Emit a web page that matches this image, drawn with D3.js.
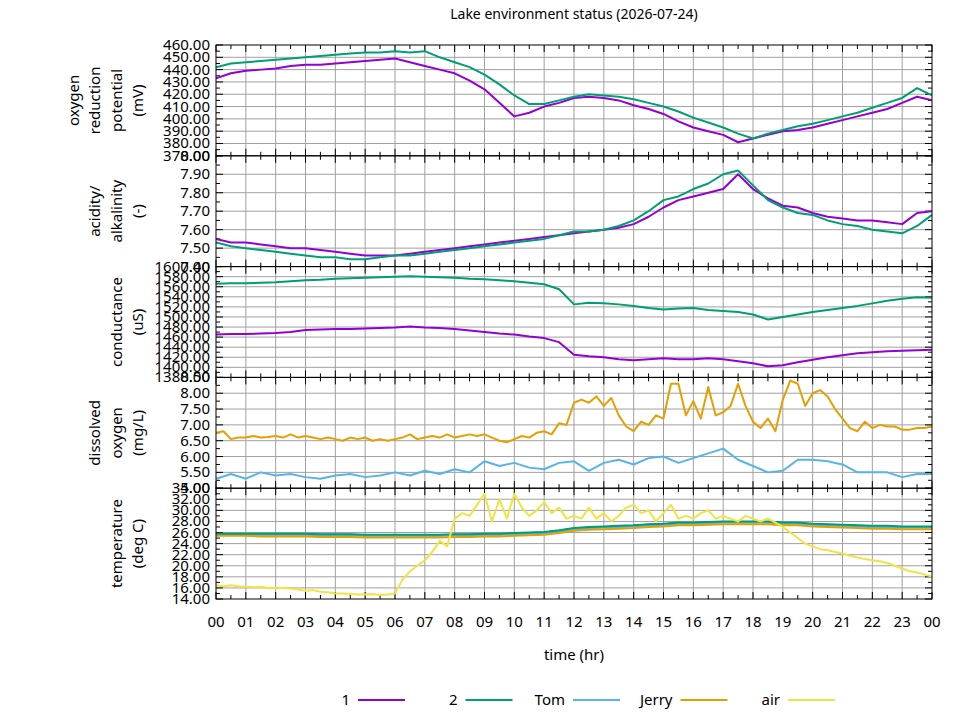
<!DOCTYPE html>
<html>
<head>
<meta charset="utf-8">
<script src="https://cdn.jsdelivr.net/npm/d3@7"></script>
<style>
  body { margin: 0; background: #fff; }
  text { font-family: "Noto Sans", sans-serif; }
</style>
</head>
<body>
<div id="chart"></div>
<script>
// half-hour samples (49) unless noted, quarter-hour samples (97)
const orp1 = [433,437,439,440,441,443,444,444,445,446,447,448,449,
  446,443,440,437,431,424,413,402,405,410,413,417,
  418,417,415,411,408,404,398,393,390,387,381,384,
  387,390,391,393,396,399,402,405,408,413,418,415];
const orp2 = [442,445,446,447,448,449,450,451,452,453,454,454,455,
  454,455,450,446,442,436,428,419,412,412,415,418,
  420,419,418,416,413,410,406,401,397,393,388,384,
  388,391,394,396,399,402,405,409,413,417,425,419];
const ph1 = [7.55,7.53,7.53,7.52,7.51,7.50,7.50,7.49,7.48,7.47,7.46,7.46,7.46,
  7.47,7.48,7.49,7.50,7.51,7.52,7.53,7.54,7.55,7.56,7.57,7.58,
  7.59,7.60,7.61,7.63,7.67,7.72,7.76,7.78,7.80,7.82,7.90,7.82,
  7.77,7.73,7.72,7.69,7.67,7.66,7.65,7.65,7.64,7.63,7.69,7.70];
const ph2 = [7.53,7.51,7.50,7.49,7.48,7.47,7.46,7.45,7.45,7.44,7.44,7.45,7.46,
  7.46,7.47,7.48,7.49,7.50,7.51,7.52,7.53,7.54,7.55,7.57,7.59,
  7.59,7.60,7.62,7.65,7.70,7.76,7.78,7.82,7.85,7.90,7.92,7.84,
  7.76,7.72,7.69,7.68,7.65,7.63,7.62,7.60,7.59,7.58,7.62,7.68];
const cond1 = [1465,1466,1466,1467,1468,1470,1474,1475,1476,1476,1477,1478,1479,
  1481,1479,1478,1476,1473,1470,1467,1465,1461,1458,1450,1425,
  1422,1420,1416,1414,1416,1418,1416,1416,1418,1416,1412,1408,
  1402,1404,1410,1415,1420,1424,1428,1430,1432,1433,1434,1435];
const cond2 = [1566,1567,1567,1568,1569,1571,1573,1574,1576,1577,1578,1579,1580,
  1581,1580,1579,1578,1576,1575,1573,1571,1568,1565,1555,1525,
  1528,1527,1525,1522,1518,1515,1517,1518,1514,1512,1510,1505,
  1495,1500,1505,1510,1514,1518,1522,1527,1532,1536,1539,1538];
const doTom = [5.3,5.45,5.3,5.5,5.4,5.45,5.35,5.3,5.4,5.45,
  5.35,5.4,5.5,5.4,5.55,5.45,5.6,5.5,5.85,5.7,
  5.8,5.65,5.6,5.8,5.85,5.55,5.8,5.9,5.75,5.95,
  6.0,5.8,5.95,6.1,6.25,5.9,5.7,5.5,5.55,5.9,
  5.9,5.85,5.75,5.5,5.5,5.5,5.35,5.45,5.45];
const doJerry = [6.75,6.8,6.55,6.6,6.6,6.65,6.6,6.62,6.65,6.6,6.7,6.6,6.65,6.6,6.55,6.6,6.55,6.5,6.6,6.55,
  6.6,6.5,6.55,6.5,6.55,6.6,6.7,6.55,6.6,6.65,6.6,6.7,6.6,6.65,6.7,6.65,6.7,6.6,6.5,6.45,
  6.55,6.65,6.6,6.75,6.8,6.7,7.05,7.0,7.7,7.8,7.7,7.9,7.6,7.85,7.3,6.95,
  6.8,7.1,7.0,7.3,7.2,8.3,8.3,7.3,7.75,7.2,8.2,7.3,7.4,7.6,8.3,7.6,
  7.1,6.9,7.2,6.8,7.8,8.4,8.3,7.6,8.0,8.1,7.9,7.5,7.2,6.9,6.8,7.1,
  6.9,7.0,6.95,6.95,6.85,6.85,6.9,6.9,6.95];
const temp1 = [25.7,25.7,25.7,25.7,25.7,25.7,25.7,25.6,25.6,25.6,25.5,25.5,25.5,
  25.5,25.5,25.5,25.6,25.6,25.7,25.7,25.8,25.9,26.0,26.3,26.7,
  26.9,27.0,27.1,27.2,27.4,27.5,27.7,27.7,27.8,27.9,27.9,27.9,
  27.9,27.7,27.7,27.5,27.4,27.3,27.2,27.1,27.1,27.0,27.0,27.0];
const temp2 = [25.8,25.8,25.8,25.8,25.8,25.8,25.8,25.7,25.7,25.7,25.6,25.6,25.6,
  25.6,25.6,25.6,25.7,25.7,25.8,25.8,25.9,26.0,26.1,26.4,26.8,
  27.0,27.1,27.2,27.3,27.5,27.6,27.8,27.8,27.9,28.0,28.0,28.0,
  28.0,27.8,27.8,27.6,27.5,27.4,27.3,27.2,27.2,27.1,27.1,27.1];
const tempTom = [25.6,25.6,25.6,25.6,25.6,25.6,25.6,25.5,25.5,25.5,25.4,25.4,25.4,
  25.4,25.4,25.4,25.5,25.5,25.6,25.6,25.7,25.8,25.9,26.2,26.6,
  26.8,26.9,27.0,27.1,27.3,27.4,27.6,27.6,27.7,27.8,27.8,27.8,
  27.8,27.6,27.6,27.4,27.3,27.2,27.1,27.0,27.0,26.9,26.9,26.9];
const tempJerry = [25.4,25.4,25.4,25.3,25.3,25.3,25.3,25.2,25.2,25.2,25.1,25.1,25.1,
  25.1,25.1,25.1,25.2,25.2,25.3,25.3,25.4,25.5,25.6,25.9,26.3,
  26.5,26.6,26.7,26.8,27.0,27.1,27.3,27.3,27.4,27.5,27.5,27.5,
  27.5,27.3,27.3,27.1,27.0,26.9,26.8,26.7,26.7,26.6,26.6,26.6];
const tempAir = [16.5,16.3,16.5,16.3,16.2,16.1,16.2,16.0,16.0,16.0,15.9,15.7,15.5,15.6,15.3,15.2,15.0,15.0,14.9,14.8,14.8,14.9,14.7,14.8,
  15.0,17.5,19.0,20.0,21.0,22.5,24.5,23.5,28.5,29.5,29.0,31.0,33.0,28.0,32.0,28.5,33.0,30.5,29.0,30.0,31.5,29.5,30.5,28.5,
  29.0,28.5,30.5,28.5,29.5,28.0,29.0,30.5,31.0,29.5,30.0,28.0,29.5,31.0,28.5,29.0,28.5,29.5,30.0,28.5,29.0,28.5,28.0,29.0,
  28.5,28.0,28.5,27.8,27.0,26.0,25.0,24.0,23.5,23.0,22.8,22.5,22.2,21.8,21.5,21.2,21.0,20.8,20.5,20.0,19.5,19.0,18.8,18.4,18.0];

const hourLabels = ["00","01","02","03","04","05","06","07","08","09","10","11","12",
  "13","14","15","16","17","18","19","20","21","22","23","00"];
const legendNames = ["1", "2", "Tom", "Jerry", "air"];
const colors = { "1": "#9400d3", "2": "#009e73", "Tom": "#56b4e9", "Jerry": "#e69f00", "air": "#f0e442" };

const panels = [
  { label: ["oxygen", "reduction", "potential", "(mV)"], domain: [370, 460], step: 10,
    series: [["1", orp1], ["2", orp2]] },
  { label: ["acidity/", "alkalinity", "(-)"], domain: [7.4, 8.0], step: 0.1,
    series: [["1", ph1], ["2", ph2]] },
  { label: ["conductance", "(uS)"], domain: [1380, 1600], step: 20,
    series: [["1", cond1], ["2", cond2]] },
  { label: ["dissolved", "oxygen", "(mg/L)"], domain: [5.0, 8.5], step: 0.5,
    series: [["Tom", doTom], ["Jerry", doJerry]] },
  { label: ["temperature", "(deg C)"], domain: [14, 34], step: 2,
    series: [["1", temp1], ["Tom", tempTom], ["Jerry", tempJerry], ["2", temp2], ["air", tempAir]] }
];

const chartW = 960, chartH = 720;
const plotLeft = 216, plotRight = 932, plotTop = 45, panelH = 110.8;

const svg = d3.select("#chart").append("svg")
  .attr("width", chartW).attr("height", chartH);

const x = d3.scaleLinear().domain([0, 24]).range([plotLeft, plotRight]);

svg.append("text")
  .attr("x", (plotLeft + plotRight) / 2).attr("y", 19)
  .attr("text-anchor", "middle").attr("font-size", 14)
  .text("Lake environment status (2026-07-24)");

panels.forEach((p, i) => {
  const y0 = plotTop + i * panelH, y1 = y0 + panelH;
  const y = d3.scaleLinear().domain(p.domain).range([y1, y0]);
  const g = svg.append("g");
  const n = Math.round((p.domain[1] - p.domain[0]) / p.step);
  const ticks = d3.range(n + 1).map((k) => p.domain[0] + k * p.step);
  const minor = d3.range(n).map((k) => p.domain[0] + (k + 0.5) * p.step);

  // grid
  g.selectAll(".hg").data(ticks.slice(1, -1)).join("line")
    .attr("x1", plotLeft).attr("x2", plotRight)
    .attr("y1", (d) => y(d)).attr("y2", (d) => y(d))
    .attr("stroke", "#a0a0a0").attr("stroke-width", 1);
  g.selectAll(".vg").data(d3.range(1, 24)).join("line")
    .attr("x1", (d) => x(d)).attr("x2", (d) => x(d))
    .attr("y1", y0).attr("y2", y1)
    .attr("stroke", "#a0a0a0").attr("stroke-width", 1);

  // y ticks, both sides, inward
  [[plotLeft, 1], [plotRight, -1]].forEach(([bx, dir]) => {
    g.selectAll(null).data(ticks).join("line")
      .attr("x1", bx).attr("x2", bx + dir * 7)
      .attr("y1", (d) => y(d)).attr("y2", (d) => y(d)).attr("stroke", "#000");
    g.selectAll(null).data(minor).join("line")
      .attr("x1", bx).attr("x2", bx + dir * 4)
      .attr("y1", (d) => y(d)).attr("y2", (d) => y(d)).attr("stroke", "#000");
  });
  // x ticks, top and bottom, inward
  [[y0, 1], [y1, -1]].forEach(([by, dir]) => {
    g.selectAll(null).data(d3.range(0, 25)).join("line")
      .attr("x1", (d) => x(d)).attr("x2", (d) => x(d))
      .attr("y1", by).attr("y2", by + dir * 7).attr("stroke", "#000");
    g.selectAll(null).data(d3.range(0.5, 24, 1)).join("line")
      .attr("x1", (d) => x(d)).attr("x2", (d) => x(d))
      .attr("y1", by).attr("y2", by + dir * 4).attr("stroke", "#000");
  });

  g.selectAll(".yl").data(ticks).join("text")
    .attr("x", plotLeft - 6).attr("y", (d) => y(d) + 5)
    .attr("text-anchor", "end").attr("font-size", 15)
    .text((d) => d.toFixed(2));

  // multi-line rotated axis label
  const cy = (y0 + y1) / 2;
  p.label.forEach((line, j) => {
    const lx = 138 - (p.label.length - 1 - j) * 21.5;
    svg.append("text")
      .attr("transform", `translate(${lx + 5},${cy}) rotate(-90)`)
      .attr("text-anchor", "middle").attr("font-size", 15)
      .text(line);
  });

  // series
  const clip = "clip" + i;
  svg.append("clipPath").attr("id", clip).append("rect")
    .attr("x", plotLeft).attr("y", y0).attr("width", plotRight - plotLeft).attr("height", panelH);
  p.series.forEach(([name, vals]) => {
    const line = d3.line()
      .x((d, k) => x(k * 24 / (vals.length - 1)))
      .y((d) => y(d));
    svg.append("path").datum(vals)
      .attr("clip-path", `url(#${clip})`)
      .attr("d", line).attr("fill", "none")
      .attr("stroke", colors[name]).attr("stroke-width", 2)
      .attr("stroke-linejoin", "round");
  });

  svg.append("rect")
    .attr("x", plotLeft).attr("y", y0).attr("width", plotRight - plotLeft).attr("height", panelH)
    .attr("fill", "none").attr("stroke", "#000").attr("stroke-width", 1);
});

const plotBottom = plotTop + panels.length * panelH;
svg.selectAll(".xl").data(hourLabels).join("text")
  .attr("x", (d, k) => x(k)).attr("y", plotBottom + 28)
  .attr("text-anchor", "middle").attr("font-size", 15)
  .text((d) => d);

svg.append("text")
  .attr("x", (plotLeft + plotRight) / 2).attr("y", plotBottom + 61)
  .attr("text-anchor", "middle").attr("font-size", 15)
  .text("time (hr)");

// legend
legendNames.forEach((name, k) => {
  const bx = 350 + k * 107.5;
  svg.append("text").attr("x", bx).attr("y", 705)
    .attr("text-anchor", "end").attr("font-size", 15).text(name);
  svg.append("line")
    .attr("x1", bx + 8).attr("x2", bx + 55).attr("y1", 700).attr("y2", 700)
    .attr("stroke", colors[name]).attr("stroke-width", 2);
});
</script>
</body>
</html>
